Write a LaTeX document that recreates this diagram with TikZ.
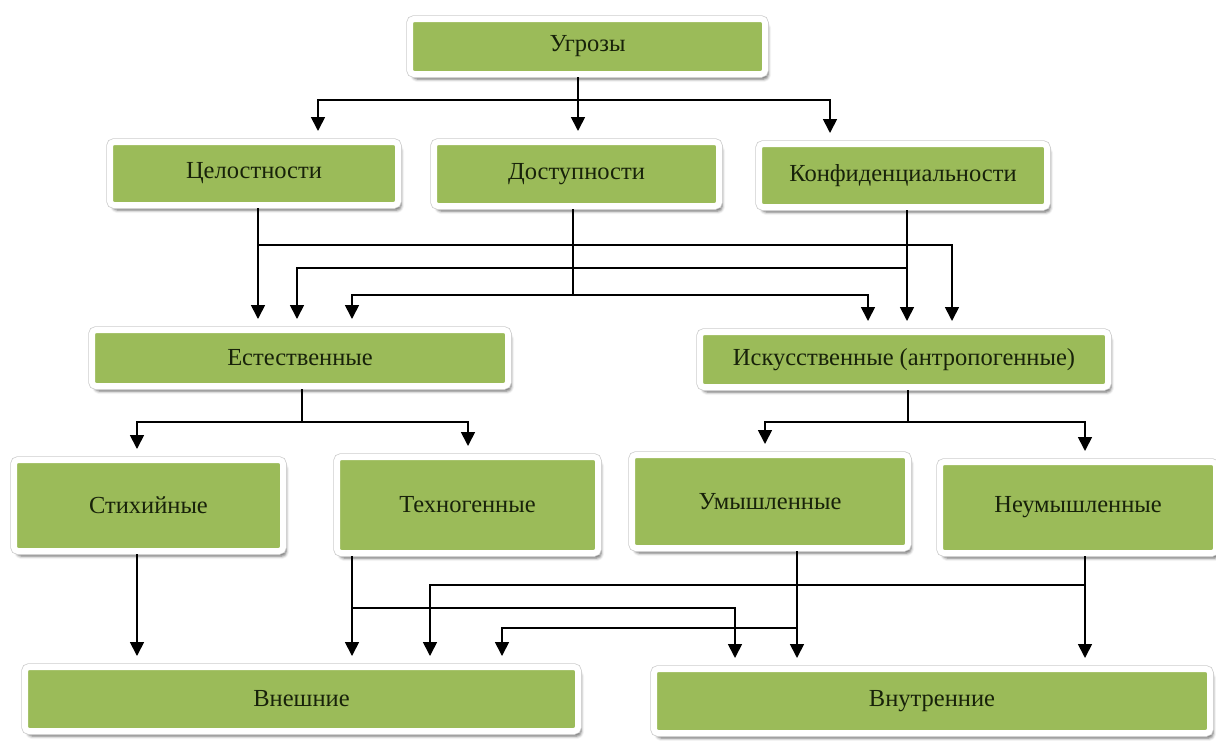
\documentclass[tikz,border=0pt]{standalone}
\usepackage{fontspec}
\setmainfont{Liberation Serif}
\usetikzlibrary{arrows.meta, shadows.blur}
\definecolor{boxgreen}{RGB}{155,187,89}
\definecolor{boxtext}{RGB}{24,34,10}
\tikzstyle{greenbox} = [rectangle, rounded corners=4pt, fill=boxgreen, draw=white, line width=6pt, text=boxtext, inner sep=0pt, font=\fontsize{24.5}{28}\selectfont, blur shadow={shadow xshift=3pt, shadow yshift=-5pt, shadow blur radius=3pt, shadow opacity=60}, preaction={draw=black!20, line width=7.5pt}]
\tikzstyle{link} = [line width=1.7pt, black]
\tikzstyle{linkarrow} = [link, -{Triangle[length=14pt,width=14pt]}, shorten >=8pt]

\begin{document}
\begin{tikzpicture}[x=1pt,y=-1pt]
\useasboundingbox (0,0) rectangle (1216,740);

% Boxes
\node[greenbox, minimum width=355pt, minimum height=55pt] (ugr) at (587.5,46.5) {Угрозы};
\node[greenbox, minimum width=288pt, minimum height=63pt] (cel) at (254,173.5) {Целостности};
\node[greenbox, minimum width=285pt, minimum height=64pt] (dost) at (576.5,174) {Доступности};
\node[greenbox, minimum width=288pt, minimum height=63pt] (konf) at (903,175.5) {Конфиденциальности};
\node[greenbox, minimum width=416pt, minimum height=56pt] (est) at (300,358) {Естественные};
\node[greenbox, minimum width=408pt, minimum height=55pt] (isk) at (904,359.5) {Искусственные (антропогенные)};
\node[greenbox, minimum width=269pt, minimum height=91pt] (stih) at (148.5,505.5) {Стихийные};
\node[greenbox, minimum width=261pt, minimum height=96pt] (tech) at (467.5,505) {Техногенные};
\node[greenbox, minimum width=276pt, minimum height=93pt] (umysh) at (770,501.5) {Умышленные};
\node[greenbox, minimum width=276pt, minimum height=91pt] (neum) at (1078,507.5) {Неумышленные};
\node[greenbox, minimum width=553pt, minimum height=64pt] (vnesh) at (301.5,699) {Внешние};
\node[greenbox, minimum width=556pt, minimum height=64pt] (vnutr) at (932,701) {Внутренние};

% Угрозы
\draw[linkarrow] (ugr.south -| 578,0) -- (dost.north -| 578,0);
\draw[linkarrow] (ugr.south -| 578,0) |- (318,100) -- (cel.north -| 318,0);
\draw[linkarrow] (ugr.south -| 578,0) |- (830,100) -- (konf.north -| 830,0);

% Целостности, Доступности, Конфиденциальности
\draw[linkarrow] (cel.south -| 258,0) -- (est.north -| 258,0);
\draw[linkarrow] (cel.south -| 258,0) |- (952,245) -- (isk.north -| 952,0);
\draw[linkarrow] (dost.south -| 573,0) |- (352,295) -- (est.north -| 352,0);
\draw[linkarrow] (dost.south -| 573,0) |- (868,295) -- (isk.north -| 868,0);
\draw[linkarrow] (konf.south -| 907,0) -- (isk.north -| 907,0);
\draw[linkarrow] (konf.south -| 907,0) |- (297,268) -- (est.north -| 297,0);

% Естественные, Искусственные
\draw[linkarrow] (est.south -| 302,0) |- (137,422) -- (stih.north -| 137,0);
\draw[linkarrow] (est.south -| 302,0) |- (468,422) -- (tech.north -| 468,0);
\draw[linkarrow] (isk.south -| 908,0) |- (765,422) -- (umysh.north -| 765,0);
\draw[linkarrow] (isk.south -| 908,0) |- (1085,422) -- (neum.north -| 1085,0);

% Внешние, Внутренние
\draw[linkarrow] (stih.south -| 137,0) -- (vnesh.north -| 137,0);
\draw[linkarrow] (tech.south -| 352,0) -- (vnesh.north -| 352,0);
\draw[linkarrow] (tech.south -| 352,0) |- (735,608) -- (vnutr.north -| 735,0);
\draw[linkarrow] (umysh.south -| 797,0) -- (vnutr.north -| 797,0);
\draw[linkarrow] (umysh.south -| 797,0) |- (502,628) -- (vnesh.north -| 502,0);
\draw[linkarrow] (neum.south -| 1085,0) -- (vnutr.north -| 1085,0);
\draw[linkarrow] (neum.south -| 1085,0) |- (430,585) -- (vnesh.north -| 430,0);

\end{tikzpicture}
\end{document}
